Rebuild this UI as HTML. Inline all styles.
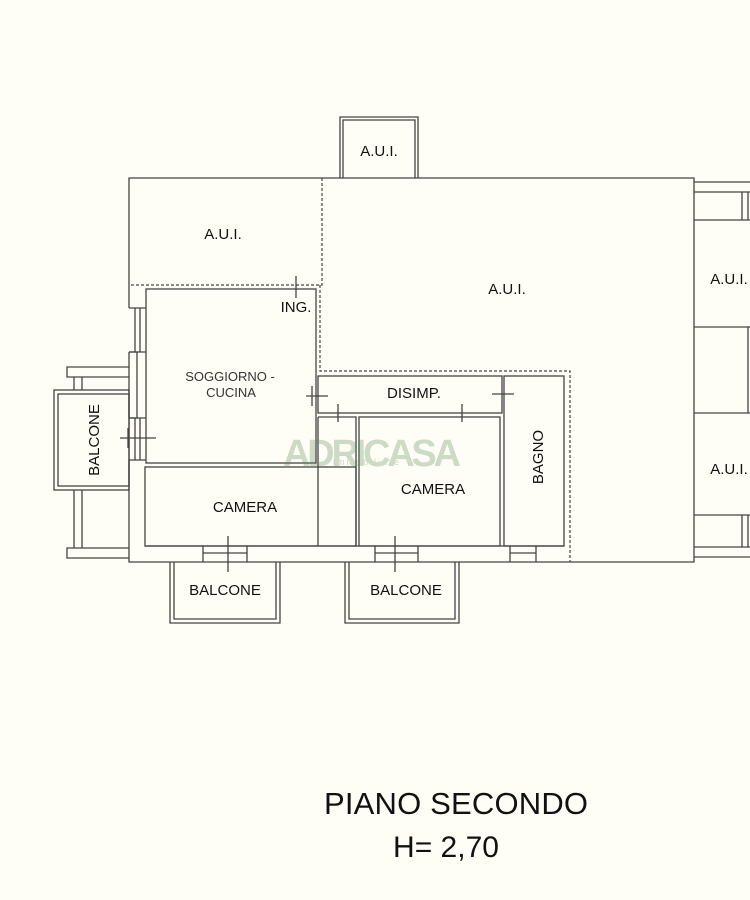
<!DOCTYPE html>
<html><head><meta charset="utf-8"><style>
html,body{margin:0;padding:0;background:#fefef6;}
svg{display:block;}
text{font-family:"Liberation Sans",sans-serif;fill:#111;}
</style></head><body>
<svg width="750" height="900" viewBox="0 0 750 900" xmlns="http://www.w3.org/2000/svg">
<rect width="750" height="900" fill="#fefef6"/>
<g fill="none" stroke="#444" stroke-width="1.3">
<path d="M340 178V117H418V178"/><path d="M343 178V120H415V178"/>
<path d="M129 308V178H694V562H129V460"/>
<path d="M129 352V418"/>
<path d="M129 308H146M129 352H146M129 418H146M129 460H146"/>
<path d="M135 308V352M140 308V352M135 418V460M140 418V460"/>
<path d="M129 352H137V418H129"/>
<rect x="146" y="289" width="170" height="174"/>
<rect x="145" y="467" width="211" height="79"/>
<path d="M203 546V562M247 546V562M203 553H247"/>
<rect x="318" y="376" width="184" height="37"/>
<rect x="359" y="417" width="141" height="129"/>
<path d="M318 417V546M318 417H356V546"/>
<path d="M375 546V562M418 546V562M375 553H418"/>
<rect x="504" y="376" width="60" height="170"/>
<path d="M510 546V562M536 546V562M510 553H536"/>
<path d="M145 546H564"/>
<path d="M129 367H67V377H129M129 548H67V558H129"/>
<path d="M74 377V390M82 377V390M74 490V548M82 490V548"/>
<rect x="54" y="390" width="75" height="100"/><rect x="58" y="394" width="71" height="92"/>
<path d="M170 562V623H280V562M174 562V619H276V562"/>
<path d="M345 562V623H459V562M349 562V619H455V562"/>
<path d="M694 182H750M694 192H750M694 220H750M742 192V220M748 192V220"/>
<path d="M694 327H750M694 413H750M748 327V413"/>
<path d="M694 515H750M694 547H750M694 557H750M742 515V547M748 515V547"/>
<path d="M296 276V298M120 438H156M128 428V448M306 396H328M312 386V406M338 404V422M462 404V422M492 394H514M228 536V572M395 536V572"/>
</g>
<g fill="none" stroke="#444" stroke-width="1.2" stroke-dasharray="3,2">
<path d="M322 178V285H129"/>
<path d="M320 285V371H570V562"/>
</g>
<g opacity="0.3">
<text x="283" y="466" font-size="38" style="fill:#5a8a5a" font-weight="bold" textLength="178">ADRICASA</text>
<text x="333" y="465" font-size="9" letter-spacing="2" style="fill:#5a8a5a">immobiliare</text>
</g>
<g font-size="15" text-anchor="middle">
<text x="379" y="156">A.U.I.</text>
<text x="223" y="239">A.U.I.</text>
<text x="507" y="294">A.U.I.</text>
<text x="729" y="284">A.U.I.</text>
<text x="729" y="474">A.U.I.</text>
<text x="296" y="312">ING.</text>
<text x="414" y="398">DISIMP.</text>
<text x="245" y="512">CAMERA</text>
<text x="433" y="494">CAMERA</text>
<text x="225" y="595">BALCONE</text>
<text x="406" y="595">BALCONE</text>
<text transform="translate(99,440) rotate(-90)">BALCONE</text>
<text transform="translate(543,457) rotate(-90)">BAGNO</text>
<text x="230" y="381" font-size="13" style="fill:#333">SOGGIORNO -</text>
<text x="231" y="397" font-size="13" style="fill:#333">CUCINA</text>
</g>
<text x="456" y="814" font-size="31" text-anchor="middle" textLength="264">PIANO SECONDO</text>
<text x="446" y="857" font-size="30" text-anchor="middle">H= 2,70</text>
</svg>
</body></html>
